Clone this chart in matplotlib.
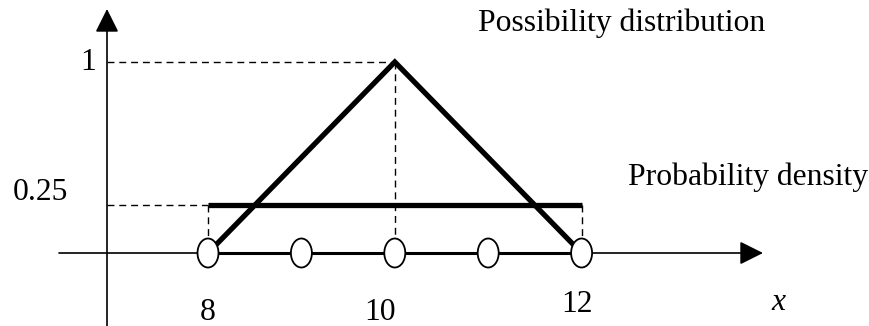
import matplotlib
matplotlib.use("Agg")
import matplotlib.pyplot as plt
from matplotlib.patches import Ellipse

# ---- data ----
poss_x = [8, 10, 12]          # possibility distribution (triangle)
poss_y = [0, 1, 0]
prob_x = [8, 12]              # probability density (uniform)
prob_y = [0.25, 0.25]
points_x = [8, 9, 10, 11, 12]  # circles on the x axis
x_ticks = [8, 10, 12]
x_tick_labels = ["8", "10", "12"]
y_ticks = [1, 0.25]
y_tick_labels = ["1", "0.25"]

W, H, DPI = 869, 326, 100
fig = plt.figure(figsize=(W / DPI, H / DPI), dpi=DPI)
ax = fig.add_axes([0, 0, 1, 1])
ax.axis("off")

# pixel -> data mapping (x: 8 at px 208, 93.4 px/unit; y: 0 at px 253, 191 px/unit)
sx, ox = 93.4, 208.0
sy, oy = 191.0, 253.0
def px(p):
    return 8 + (p - ox) / sx
def py(p):
    return (oy - p) / sy
ax.set_xlim(px(0), px(W))
ax.set_ylim(py(H), py(0))

FONT = "Liberation Serif"
FS = 22.8

x0 = px(107)  # y-axis position

# axes with arrows
ax.annotate("", xy=(px(763), 0), xytext=(px(59), 0),
            arrowprops=dict(arrowstyle="-|>,head_length=1,head_width=0.5",
                            mutation_scale=14.4, lw=1.2, color="black",
                            shrinkA=0, shrinkB=0), zorder=2)
ax.annotate("", xy=(x0, py(9)), xytext=(x0, py(H + 5)),
            arrowprops=dict(arrowstyle="-|>,head_length=1,head_width=0.5",
                            mutation_scale=14.4, lw=1.2, color="black",
                            shrinkA=0, shrinkB=0), zorder=2)
ax.plot([points_x[0], points_x[-1]], [0, 0], color="black", lw=2.2,
        solid_capstyle="butt", zorder=2)

dash = dict(color="black", lw=1.0, linestyle=(0, (5, 3.5)), zorder=1)
# guide lines
ax.plot([x0, poss_x[1]], [poss_y[1], poss_y[1]], **dash)
ax.plot([poss_x[1], poss_x[1]], [poss_y[1], 0], **dash)
ax.plot([x0, prob_x[0]], [prob_y[0], prob_y[0]], **dash)
ax.plot([prob_x[0], prob_x[0]], [prob_y[0], 0], **dash)
ax.plot([prob_x[1], prob_x[1]], [prob_y[1], 0], **dash)

# series
ax.plot(poss_x, poss_y, color="black", lw=3.8, solid_capstyle="butt",
        solid_joinstyle="miter", zorder=3)
ax.plot(prob_x, prob_y, color="black", lw=3.8, solid_capstyle="butt", zorder=3)

# circles
for xv in points_x:
    ax.add_patch(Ellipse((xv, 0), width=21 / sx, height=29 / sy,
                         facecolor="white", edgecolor="black", lw=1.3, zorder=4))

# tick labels
ax.text(px(96), y_ticks[0], y_tick_labels[0], ha="right", va="center",
        fontsize=FS, family=FONT)
ax.text(px(68), py(192), y_tick_labels[1], ha="right", va="center",
        fontsize=FS, family=FONT)
xlab_px = {8: (208, 313), 10: (380, 313), 12: (577, 304)}
for v, lab in zip(x_ticks, x_tick_labels):
    xp, yp = xlab_px[v]
    ax.text(px(xp), py(yp), lab, ha="center", va="center", fontsize=FS, family=FONT)
ax.text(px(778), py(303), "x", ha="center", va="center", fontsize=FS,
        family=FONT, style="italic")

# series labels
ax.text(px(478), py(23), "Possibility distribution", ha="left", va="center",
        fontsize=FS, family=FONT)
ax.text(px(628), py(177), "Probability density", ha="left", va="center",
        fontsize=FS, family=FONT)

fig.savefig("out.png", dpi=DPI)
